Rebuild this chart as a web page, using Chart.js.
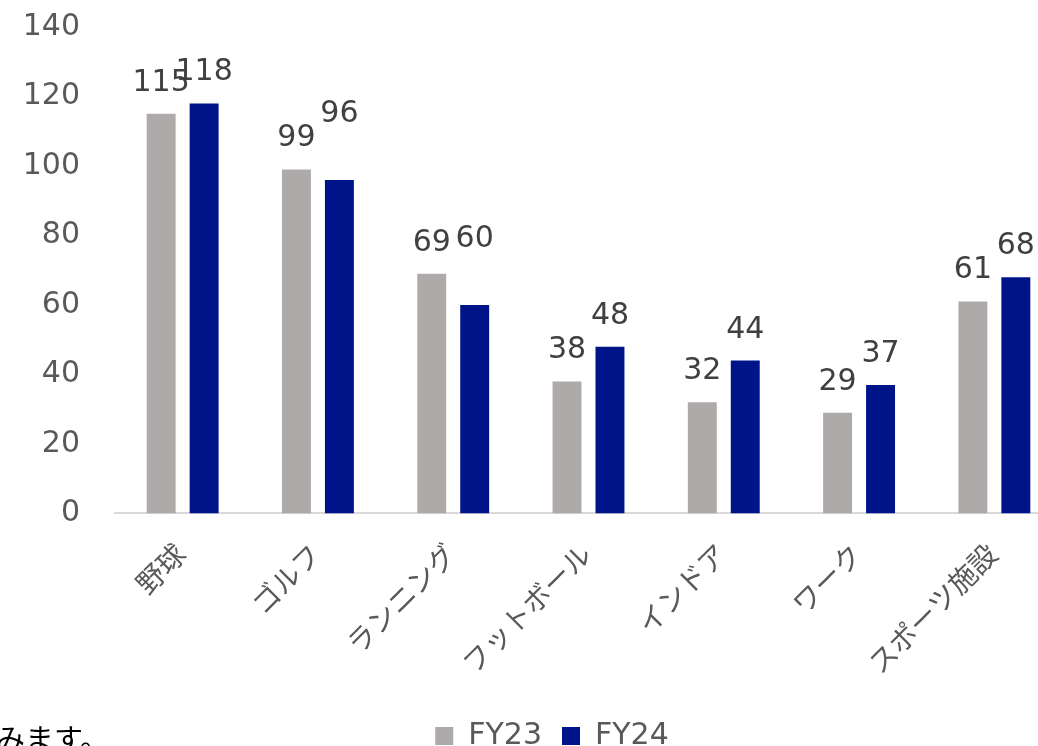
<!DOCTYPE html>
<html>
<head>
<meta charset="utf-8">
<script src="https://cdn.jsdelivr.net/npm/chart.js@4.4.0/dist/chart.umd.min.js"></script>
<style>
  html, body { margin: 0; padding: 0; background: #fff; overflow: hidden; }
  #wrap { position: relative; width: 1038px; height: 746px; overflow: hidden; }
  #myBarChart { position: absolute; left: 0; top: 0; }
  #note { position: absolute; left: -4px; top: 716px; font: 29px "Noto Sans CJK JP", sans-serif; color: #000; white-space: nowrap; }
</style>
</head>
<body>
<div id="wrap">
  <canvas id="myBarChart" width="1062" height="768"></canvas>
  <div id="note">みます。</div>
</div>
<script>
var categories = ['野球', 'ゴルフ', 'ランニング', 'フットボール', 'インドア', 'ワーク', 'スポーツ施設']
var fy23 = [115, 99, 69, 38, 32, 29, 61]
var fy24 = [118, 96, 60, 48, 44, 37, 68]
var seriesNames = ['FY23', 'FY24']

var fontFamily = '"DejaVu Sans", "Noto Sans CJK JP", sans-serif'

// values above the bars (a few FY24 labels sit higher, as in the original)
var valueLabels = {
    id: 'valueLabels',
    afterDatasetsDraw: function(chart, args, opts) {
        var ctx = chart.ctx
        ctx.save()
        ctx.font = '30px ' + fontFamily
        ctx.fillStyle = '#404040'
        ctx.textAlign = 'center'
        ctx.textBaseline = 'alphabetic'
        chart.data.datasets.forEach(function(ds, i) {
            var raised = opts.raised[i] || []
            chart.getDatasetMeta(i).data.forEach(function(bar, j) {
                var lift = raised.indexOf(j) >= 0 ? opts.lift : 0
                ctx.fillText(ds.data[j], bar.x, bar.y - 23 - lift)
            })
        })
        ctx.restore()
    }
}

// move legend a bit right and up, like the original
var legendShift = {
    id: 'legendShift',
    afterLayout: function(chart) {
        chart.legend.left += 21
        chart.legend.right += 21
        chart.legend.top -= 7
        chart.legend.bottom -= 7
    }
}

var ctx = document.getElementById('myBarChart').getContext('2d')
var myBarChart = new Chart(ctx, {
    type: 'bar',
    data: {
        labels: categories,
        datasets: [{
            label: seriesNames[0],
            data: fy23,
            backgroundColor: '#AEAAAA',
            categoryPercentage: 0.635,
            barPercentage: 0.674
        }, {
            label: seriesNames[1],
            data: fy24,
            backgroundColor: '#001489',
            categoryPercentage: 0.635,
            barPercentage: 0.674
        }]
    },
    options: {
        responsive: false,
        animation: false,
        layout: { padding: { top: 27, left: 0, right: 0, bottom: 0 } },
        scales: {
            x: {
                grid: { display: false, drawTicks: false },
                border: { display: true, color: '#D9D9D9', width: 2 },
                ticks: {
                    color: '#595959',
                    font: { size: 28, family: fontFamily },
                    minRotation: 45,
                    maxRotation: 45,
                    padding: 26
                },
                afterFit: function(scale) {
                    scale.paddingLeft = 0
                    scale.paddingRight = 0
                }
            },
            y: {
                min: 0,
                max: 140,
                grid: { display: false, drawTicks: false },
                border: { display: false },
                ticks: {
                    stepSize: 20,
                    color: '#595959',
                    font: { size: 30, family: fontFamily },
                    padding: 35
                },
                afterFit: function(scale) {
                    scale.width = 115
                    scale.paddingTop = 0
                    scale.paddingBottom = 0
                }
            }
        },
        plugins: {
            legend: {
                position: 'bottom',
                labels: {
                    boxWidth: 18,
                    boxHeight: 18,
                    padding: 20,
                    color: '#595959',
                    font: { size: 30, family: fontFamily }
                }
            },
            valueLabels: { raised: { 1: [1, 2] }, lift: 35 },
            tooltip: { enabled: false }
        }
    },
    plugins: [valueLabels, legendShift]
})
</script>
</body>
</html>
